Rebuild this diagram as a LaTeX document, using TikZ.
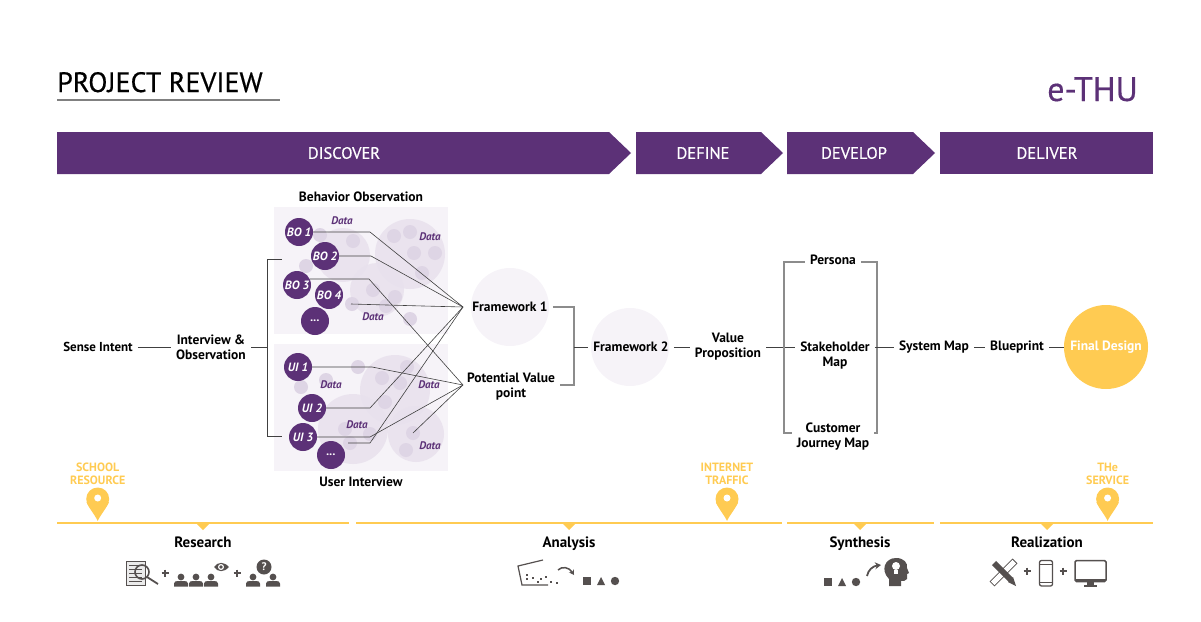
\documentclass[tikz,border=0pt]{standalone}
\usepackage{fontspec}
\setmainfont{PT Sans}
\newfontfamily\semifont[FakeBold=0.5]{PT Sans}
\usepackage{xcolor}
\usetikzlibrary{arrows.meta, positioning, calc}

\definecolor{thupurple}{HTML}{5C3177}
\definecolor{thuyellow}{HTML}{FFCB52}
\definecolor{thuicon}{HTML}{55504F}
\definecolor{panelbg}{HTML}{F6F3F8}
\definecolor{bigbub}{HTML}{E8E1ED}
\definecolor{smallbub}{HTML}{DED5E5}

\tikzset{
    stage/.style={fill=thupurple, text=white, font=\semifont\fontsize{16.5}{18}\selectfont},
    lbl/.style={inner sep=5pt, align=center, font=\fontsize{13.5}{15}\selectfont\bfseries},
    tag/.style={circle, fill=thupurple, text=white, minimum size=28pt, inner sep=0pt,
                font=\fontsize{12}{14}\selectfont\bfseries\itshape},
    datatag/.style={text=thupurple, inner sep=0pt, font=\fontsize{11}{13}\selectfont\bfseries\itshape},
    res/.style={text=thuyellow, align=center, inner sep=0pt, font=\fontsize{12}{13}\selectfont\bfseries},
    phasename/.style={anchor=base, inner sep=0pt, font=\fontsize{15}{17}\selectfont\bfseries},
    wire/.style={draw=black!75, line width=0.6pt},
    bracket/.style={draw=black!45, line width=1.1pt},
    yline/.style={draw=thuyellow, line width=2pt},
    marker/.pic={
        \fill[thuyellow] (0,-22) circle (11.5);
        \fill[thuyellow] (0,0) .. controls (-2,-5) and (-9,-13) .. (-11.2,-19) -- (11.2,-19)
            .. controls (9,-13) and (2,-5) .. (0,0) -- cycle;
        \fill[white] (0,-23) circle (3.5);
    },
    person/.pic={
        \fill[thuicon] (0,-9.5) circle (3.4);
        \fill[thuicon] (-7,0) -- (-7,-3) .. controls (-7,-5) and (-5,-5.5) .. (-3,-5.5) -- (3,-5.5)
            .. controls (5,-5.5) and (7,-5) .. (7,-3) -- (7,0) -- cycle;
    },
    plus/.pic={
        \draw[thuicon, line width=1.5pt] (-3.5,0) -- (3.5,0) (0,-3.5) -- (0,3.5);
    },
    shapes3/.pic={
        \fill[thuicon] (-4,-4) rectangle (4,4);
        \fill[thuicon] (10,4) -- (14,-4) -- (18,4) -- cycle;
        \fill[thuicon] (28,0) circle (4.2);
    }
}

\begin{document}
\begin{tikzpicture}[x=1pt, y=-1pt]
\useasboundingbox (0,0) rectangle (1201,621);

% title
\node[anchor=base west, inner sep=0pt, font=\semifont\fontsize{28}{30}\selectfont] (title) at (57,92) {PROJECT REVIEW};
\draw[draw=black!50, line width=1.6pt] (57,100) -- (280,100);
\node[anchor=base east, inner sep=0pt, text=thupurple, font=\semifont\fontsize{34}{36}\selectfont] (brand) at (1138,101) {e-THU};

% stages
\fill[thupurple] (57,132) -- (609,132) -- (631,153) -- (609,174) -- (57,174) -- cycle;
\fill[thupurple] (636,132) -- (761,132) -- (783,153) -- (761,174) -- (636,174) -- cycle;
\fill[thupurple] (787,132) -- (913,132) -- (935,153) -- (913,174) -- (787,174) -- cycle;
\fill[thupurple] (940,132) rectangle (1153,174);
\node[stage] (discover) at (344,153) {DISCOVER};
\node[stage] (define) at (703,153) {DEFINE};
\node[stage] (develop) at (854,153) {DEVELOP};
\node[stage] (deliver) at (1047,153) {DELIVER};

% panels
\fill[panelbg] (274,207) rectangle (448,334);
\fill[panelbg] (274,344) rectangle (448,471);
\foreach \x/\y/\r in {410/254/35, 343/255/27, 377/290/27, 395/390/35, 353/429/35, 416/434/28}
    \fill[bigbub, opacity=0.85] (\x,\y) circle (\r);
\foreach \x/\y in {394/236, 410/232, 414/253, 435/253, 422/273, 353/241, 320/235, 306/266,
                   373/290, 395/297, 386/306, 352/304, 410/319, 358/367, 407/367, 382/378,
                   400/383, 385/402, 345/429, 370/434, 350/443, 413/433, 406/450, 326/380, 301/387}
    \fill[smallbub] (\x,\y) circle (7);
\fill[panelbg] (510,307) circle (39);
\fill[panelbg] (630,347) circle (39);
\fill[thuyellow] (1106,347) circle (42);

% nodes
\node[lbl] (sense) at (98,347) {\fontsize{13}{15}\selectfont Sense Intent};
\node[lbl] (interview) at (211,347) {Interview \&\\Observation};
\node[lbl] (behavior) at (361,197) {Behavior Observation};
\node[lbl] (user) at (361,482) {User Interview};
\node[tag] (bo1) at (299,232) {BO 1};
\node[tag] (bo2) at (325,256) {BO 2};
\node[tag] (bo3) at (297,285) {BO 3};
\node[tag] (bo4) at (329,295) {BO 4};
\node[tag] (bomore) at (315,321) {...};
\node[tag] (ui1) at (298,367) {UI 1};
\node[tag] (ui2) at (312,408) {UI 2};
\node[tag] (ui3) at (303,437) {UI 3};
\node[tag] (uimore) at (331,455) {...};
\node[datatag] (d1) at (342,221) {Data};
\node[datatag] (d2) at (430,237) {Data};
\node[datatag] (d3) at (373,317) {Data};
\node[datatag] (d4) at (331,385) {Data};
\node[datatag] (d5) at (429,385) {Data};
\node[datatag] (d6) at (357,425) {Data};
\node[datatag] (d7) at (430,446) {Data};
\node[lbl] (fw1) at (510,307) {Framework 1};
\node[lbl] (pvp) at (511,387) {Potential Value\\point};
\node[lbl] (fw2) at (631,347) {Framework 2};
\node[lbl] (vp) at (728,347) {Value\\Proposition};
\node[lbl] (persona) at (833,260) {Persona};
\node[lbl] (stake) at (835,355.5) {Stakeholder\\Map};
\node[lbl] (journey) at (833,436.5) {Customer\\Journey Map};
\node[lbl] (sysmap) at (934,347) {System Map};
\node[lbl] (blueprint) at (1017,347) {Blueprint};
\node[circle, inner sep=0pt, minimum size=84pt, text=white, font=\fontsize{13.5}{15}\selectfont\bfseries] (final) at (1106,347) {Final Design};

\coordinate (fwin) at (463,307);
\coordinate (pvin) at (463,385);
\coordinate (bopt) at (282,259);
\coordinate (uipt) at (282,436);
\coordinate (bo4pt) at (351,304);
\coordinate (uidot) at (348,443);
\coordinate (datadot) at (413,433);

% connectors
\draw[wire] (sense) -- (interview);
\draw[wire] (interview.east |- 0,347) -- (267,347);
\draw[wire] (bopt) -- (267,259) -- (267,436) -- (uipt);
\draw[wire] (bo1.east) -- (370,232) -- (fwin);
\draw[wire] (bo2.east) -- (371,256) -- (fwin);
\draw[wire] (bo3.25) -- (369,279) -- (pvin);
\draw[wire] (bo4pt) -- (423,306) -- (fwin);
\draw[wire] (ui1.east) -- (372,367) -- (pvin);
\draw[wire] (ui2.east) -- (370,408) -- (fwin);
\draw[wire] (ui3.east) -- (370,437) -- (pvin);
\draw[wire] (uidot) -- (370,443) -- (fwin);
\draw[wire] (datadot) -- (pvin);
\draw[bracket] (fw1.east) -- (574,307) -- (574,385) -- (pvp.east |- 0,385);
\draw[wire] (574,347) -- (fw2);
\draw[wire] (fw2) -- (vp);
\draw[wire] (vp.east |- 0,347) -- (stake.west |- 0,347);
\draw[bracket] (persona.west |- 0,262) -- (784,262) -- (784,433) -- (journey.west |- 0,433);
\draw[bracket] (persona.east |- 0,262) -- (877,262) -- (877,433) -- (journey.east |- 0,433);
\draw[wire] (stake.east |- 0,347) -- (sysmap);
\draw[wire] (sysmap) -- (blueprint);
\draw[wire] (blueprint) -- (final);

% yellow rules
\foreach \a/\b/\c in {57/349/203, 356/782/569, 787/934/860, 940/1153/1047} {
    \draw[yline] (\a,523) -- (\b,523);
    \fill[thuyellow] (\c-7,523) -- (\c+7,523) -- (\c,530) -- cycle;
}
\pic at (97.7,521) {marker};
\pic at (727,521) {marker};
\pic at (1107.6,521) {marker};
\node[res] (school) at (97.7,473.5) {SCHOOL\\RESOURCE};
\node[res] (internet) at (727,473.5) {INTERNET\\TRAFFIC};
\node[res] (service) at (1107.6,473.5) {THe\\SERVICE};
\node[phasename] (research) at (203,547) {Research};
\node[phasename] (analysis) at (569,547) {Analysis};
\node[phasename] (synthesis) at (860,547) {Synthesis};
\node[phasename] (realization) at (1047,547) {Realization};

% research icons
\draw[thuicon, fill=black!8, line width=1pt] (126.5,561) rectangle (145,585.5);
\foreach \y in {565,569,573,577,581}
    \draw[thuicon, line width=0.8pt] (129,\y) -- (142,\y);
\draw[thuicon, line width=1.6pt] (142,572) circle (7);
\draw[thuicon, line width=1.8pt] (147,577) -- (158,584);
\pic at (165,573) {plus};
\foreach \x in {181,196,211}
    \pic at (\x,586.5) {person};
\fill[thuicon] (214,567) .. controls (218,561.5) and (224,561.5) .. (229,567)
    .. controls (224,572.5) and (218,572.5) .. (214,567) -- cycle;
\fill[white] (221,567) circle (3);
\fill[thuicon] (221,567) circle (1.8);
\pic at (237,573) {plus};
\pic at (253,586.5) {person};
\pic at (273,586.5) {person};
\fill[thuicon] (264,567) circle (7.5);
\node[text=white, inner sep=0pt, font=\fontsize{11}{11}\selectfont\bfseries] (ask) at (264,567) {?};

% analysis icons
\draw[thuicon, line width=1.2pt] (543,560) -- (518,566) -- (522,585) -- (548,585);
\foreach \x/\y in {527/575, 527/579, 533/578, 538/582, 541/579, 546/577, 551/582, 557/583}
    \fill[thuicon] (\x-1.3,\y-1.3) rectangle (\x+1.3,\y+1.3);
\draw[thuicon, line width=1.5pt, -{Stealth[length=5pt, width=6pt]}] (558,570) .. controls (562,566) and (569,567) .. (574,575);
\pic at (587,581) {shapes3};

% synthesis icons
\pic at (828,582) {shapes3};
\draw[thuicon, line width=1.8pt, -{Stealth[length=6pt, width=7pt]}] (867,576) .. controls (868,570) and (873,566) .. (881,565);
\fill[thuicon] (889,586) -- (889,579) .. controls (880,570) and (885,558) .. (896,558)
    .. controls (904,558) and (908,563) .. (907,568) -- (909,573) -- (907,574) -- (907,579)
    .. controls (906,581) and (903,581) .. (901,581) -- (901,586) -- cycle;
\fill[white] (896,566) circle (4);
\fill[white] (894,570) rectangle (898,574);

% realization icons
\draw[thuicon, line width=7pt] (992,584) -- (1015,561);
\draw[white, line width=5pt] (992.7,583.3) -- (1014.3,561.7);
\draw[thuicon, line width=6pt] (994,563) -- (1011,580);
\fill[thuicon] (1008,582) -- (1013,577) -- (1016,586) -- cycle;
\pic at (1027,571) {plus};
\draw[thuicon, line width=1.3pt, rounded corners=2pt] (1039.5,560.5) rectangle (1052.5,586);
\draw[thuicon, line width=1pt] (1040,564.5) -- (1052,564.5) (1040,582) -- (1052,582);
\pic at (1063,571) {plus};
\draw[thuicon, line width=1.5pt, rounded corners=1.5pt] (1075,560.5) rectangle (1106,581.5);
\draw[thuicon, line width=2pt] (1075,579.5) -- (1106,579.5);
\fill[thuicon] (1087,581.5) rectangle (1094,585);
\fill[thuicon] (1084,585) rectangle (1097,587);
\end{tikzpicture}
\end{document}
